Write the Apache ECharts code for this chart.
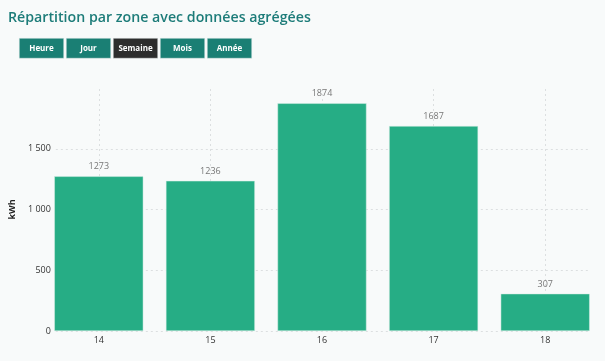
<!DOCTYPE html>
<html><head><meta charset="utf-8">
<script src="https://cdn.jsdelivr.net/npm/echarts@6/dist/echarts.min.js"></script>
<style>html,body{margin:0;padding:0;background:#f8fafa;}#c{width:605px;height:361px;}</style>
</head><body><div id="c"></div>
<script>
const categories = ['14', '15', '16', '17', '18'];
const values = [1273, 1236, 1874, 1687, 307];
const buttons = ['Heure', 'Jour', 'Semaine', 'Mois', 'Année'];
const activeButton = 'Semaine';

const chart = echarts.init(document.getElementById('c'), null, {renderer: 'canvas'});
const btnGraphics = buttons.map((b, i) => ({
  type: 'group', left: 19 + i * 47, top: 38,
  children: [
    {type: 'rect', shape: {x: 0, y: 0, width: 44.5, height: 20},
     style: {fill: b === activeButton ? '#2d2d2d' : '#1a7f74', stroke: '#e8eeee', lineWidth: 0.5}},
    {type: 'text', x: 22.25, y: 10, style: {text: b, fill: '#ffffff', font: 'bold 8px "Open Sans"', align: 'center', verticalAlign: 'middle'}}
  ]
}));

const gridTop = 88, gridBottom = 30;
const fmt = v => String(v).replace(/\B(?=(\d{3})+(?!\d))/g, ' ');

chart.setOption({
  backgroundColor: '#f8fafa',
  animation: false,
  title: {text: 'Répartition par zone avec données agrégées', left: 3, top: 6,
    textStyle: {color: '#1d7c79', fontSize: 14.2, fontWeight: 600, fontFamily: 'Open Sans'}},
  graphic: btnGraphics,
  grid: [
    {left: 43, right: 4, top: gridTop, bottom: gridBottom},
    {left: 53, right: 17, top: gridTop, bottom: gridBottom}
  ],
  xAxis: [{
    gridIndex: 0, type: 'value', min: -0.5, max: 4.5, minInterval: 1,
    axisLine: {show: false}, axisTick: {show: false}, splitLine: {show: false},
    axisLabel: {color: '#333', fontSize: 9, fontFamily: 'Open Sans', margin: 5,
      showMinLabel: false, showMaxLabel: false,
      formatter: v => (Number.isInteger(v) && categories[v] !== undefined) ? categories[v] : ''}
  }, {
    gridIndex: 1, type: 'value', min: 0, max: 1, show: false
  }],
  yAxis: [{
    gridIndex: 0, type: 'value', min: 0, max: 2000, interval: 500, show: false
  }, {
    gridIndex: 1, type: 'value', min: 0, max: 2000, interval: 500,
    name: 'kWh', nameLocation: 'middle', nameGap: 28, nameRotate: 90,
    nameTextStyle: {color: '#222', fontSize: 9, fontWeight: 'bold', fontFamily: 'Open Sans'},
    axisLine: {show: false}, axisTick: {show: false},
    axisLabel: {color: '#333', fontSize: 9, fontFamily: 'Open Sans', margin: 5, showMaxLabel: false, formatter: fmt},
    splitLine: {show: true, showMaxLine: false, lineStyle: {color: '#dcdfe0', type: [2, 3], width: 1}}
  }],
  series: [{
    type: 'bar', barWidth: 89, xAxisIndex: 0, yAxisIndex: 0, z: 3,
    data: values.map((v, i) => [i, v]),
    itemStyle: {color: '#26ad85', borderColor: '#d9efe7', borderWidth: 0.5},
    label: {show: true, position: 'top', distance: 5, color: '#777', fontSize: 9, fontFamily: 'Open Sans'},
    markLine: {
      silent: true, symbol: 'none', label: {show: false}, z: 1,
      lineStyle: {color: '#dcdfe0', type: [2, 3], width: 1},
      data: categories.map((c, i) => ({xAxis: i}))
    }
  }]
});
</script></body></html>
